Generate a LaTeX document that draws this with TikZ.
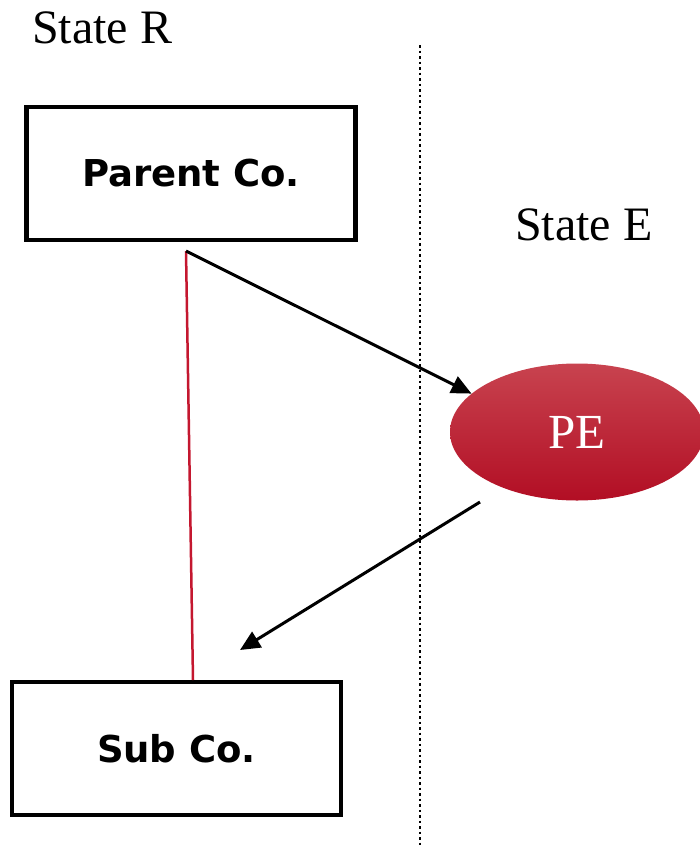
\documentclass[tikz,border=0pt]{standalone}
\usepackage{fontspec}
\setmainfont{Liberation Serif}
\newfontfamily\boxfont{DejaVu Sans}
\usepackage{tikz}
\usetikzlibrary{arrows.meta,
  shapes.geometric,
  positioning,
  calc }
\definecolor{peTop}{HTML}{C8434F}
\definecolor{peBottom}{HTML}{B20E24}
\definecolor{linkRed}{HTML}{C4172F}

\begin{document}
\begin{tikzpicture}[x=1pt, y=-1pt]
    % Define styles for nodes and arrows
    \tikzstyle{company} = [rectangle, minimum width=329pt, minimum height=133pt, text centered, draw=black, line width=4.5pt, font=\boxfont\bfseries\fontsize{37}{44}\selectfont]
    \tikzstyle{estab} = [ellipse, minimum width=254pt, minimum height=137pt, inner sep=0pt, top color=peTop, bottom color=peBottom, draw=none, text=white, font=\fontsize{49}{56}\selectfont]
    \tikzstyle{statelabel} = [inner sep=0pt, anchor=base west, font=\fontsize{48}{56}\selectfont]
    \tikzstyle{arrow} = [line width=3pt, -{Triangle[length=20pt, width=18pt]}]
    \tikzstyle{ownership} = [line width=2.5pt, draw=linkRed]
    \tikzstyle{border} = [line width=2.5pt, dash pattern=on 2.5pt off 3pt]
    \useasboundingbox (0,0) rectangle (700,847);
    % Nodes
    \node (parent) [company] at (191,173.5) {Parent Co.};
    \node (sub) [company] at (176.5,748.5) {Sub Co.};
    \node (pe) [estab] at (577,432) {PE};
    \node (stateR) [statelabel] at (32,43) {State R};
    \node (stateE) [statelabel] at (515,240) {State E};
    % Points the connectors start from
    \coordinate (from) at (186,251);
    \coordinate (subtop) at (193,680);
    \coordinate (peout) at (480,502);
    \coordinate (subin) at (240,650);
    \coordinate (lineTop) at (420,45);
    \coordinate (lineBottom) at (420,847);
    % State border
    \draw [border] (lineTop) -- (lineBottom);
    % Connections
    \draw [ownership] (from) -- (subtop);
    \draw [arrow] (from) -- (pe.160);
    \draw [arrow] (peout) -- (subin);
\end{tikzpicture}
\end{document}
